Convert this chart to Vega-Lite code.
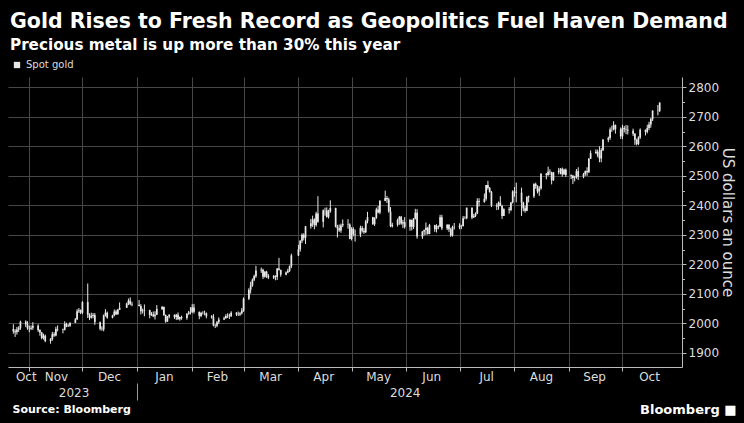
{
"$schema": "https://vega.github.io/schema/vega-lite/v6.json",
"width": 674, "height": 290,
"autosize": {"type": "none"},
"padding": {"left": 8, "top": 77, "right": 62, "bottom": 56},
"background": "#000000",
"title": {"text": "Gold Rises to Fresh Record as Geopolitics Fuel Haven Demand", "subtitle": "Precious metal is up more than 30% this year", "anchor": "start", "frame": "group", "offset": 7, "dx": 2, "font": "DejaVu Sans", "fontSize": 20.5, "fontWeight": "bold", "color": "#ffffff", "subtitleFont": "DejaVu Sans", "subtitleFontSize": 15.2, "subtitleFontWeight": "bold", "subtitleColor": "#ffffff", "subtitlePadding": 5},
"data": {"values": [
{"d":"2023-10-23","o":1981,"h":1997,"l":1965,"c":1973},
{"d":"2023-10-24","o":1973,"h":1980,"l":1954,"c":1970},
{"d":"2023-10-25","o":1970,"h":1988,"l":1962,"c":1979},
{"d":"2023-10-26","o":1979,"h":1990,"l":1971,"c":1985},
{"d":"2023-10-27","o":1985,"h":2009,"l":1978,"c":2006},
{"d":"2023-10-30","o":2006,"h":2010,"l":1987,"c":1996},
{"d":"2023-10-31","o":1996,"h":2007,"l":1978,"c":1983},
{"d":"2023-11-01","o":1983,"h":1992,"l":1970,"c":1982},
{"d":"2023-11-02","o":1982,"h":1993,"l":1977,"c":1985},
{"d":"2023-11-03","o":1985,"h":2004,"l":1978,"c":1992},
{"d":"2023-11-06","o":1992,"h":1997,"l":1971,"c":1977},
{"d":"2023-11-07","o":1977,"h":1980,"l":1958,"c":1969},
{"d":"2023-11-08","o":1969,"h":1971,"l":1946,"c":1950},
{"d":"2023-11-09","o":1950,"h":1965,"l":1945,"c":1958},
{"d":"2023-11-10","o":1958,"h":1962,"l":1936,"c":1940},
{"d":"2023-11-13","o":1940,"h":1950,"l":1931,"c":1946},
{"d":"2023-11-14","o":1946,"h":1971,"l":1941,"c":1963},
{"d":"2023-11-15","o":1963,"h":1970,"l":1954,"c":1959},
{"d":"2023-11-16","o":1959,"h":1988,"l":1956,"c":1981},
{"d":"2023-11-17","o":1981,"h":1993,"l":1973,"c":1980},
{"d":"2023-11-20","o":1980,"h":1982,"l":1966,"c":1978},
{"d":"2023-11-21","o":1978,"h":2007,"l":1976,"c":1998},
{"d":"2023-11-22","o":1998,"h":2002,"l":1987,"c":1990},
{"d":"2023-11-23","o":1990,"h":1997,"l":1988,"c":1992},
{"d":"2023-11-24","o":1992,"h":2003,"l":1988,"c":2002},
{"d":"2023-11-27","o":2002,"h":2018,"l":2001,"c":2013},
{"d":"2023-11-28","o":2013,"h":2048,"l":2012,"c":2041},
{"d":"2023-11-29","o":2041,"h":2052,"l":2035,"c":2044},
{"d":"2023-11-30","o":2044,"h":2047,"l":2031,"c":2036},
{"d":"2023-12-01","o":2036,"h":2075,"l":2031,"c":2072},
{"d":"2023-12-04","o":2072,"h":2135,"l":2018,"c":2029},
{"d":"2023-12-05","o":2029,"h":2034,"l":2011,"c":2019},
{"d":"2023-12-06","o":2019,"h":2036,"l":2016,"c":2025},
{"d":"2023-12-07","o":2025,"h":2035,"l":2017,"c":2028},
{"d":"2023-12-08","o":2028,"h":2035,"l":1995,"c":2004},
{"d":"2023-12-11","o":2004,"h":2006,"l":1976,"c":1982},
{"d":"2023-12-12","o":1982,"h":1990,"l":1975,"c":1980},
{"d":"2023-12-13","o":1980,"h":2030,"l":1973,"c":2027},
{"d":"2023-12-14","o":2027,"h":2048,"l":2023,"c":2036},
{"d":"2023-12-15","o":2036,"h":2040,"l":2016,"c":2019},
{"d":"2023-12-18","o":2019,"h":2029,"l":2017,"c":2027},
{"d":"2023-12-19","o":2027,"h":2047,"l":2024,"c":2040},
{"d":"2023-12-20","o":2040,"h":2046,"l":2028,"c":2031},
{"d":"2023-12-21","o":2031,"h":2049,"l":2029,"c":2046},
{"d":"2023-12-22","o":2046,"h":2071,"l":2045,"c":2053},
{"d":"2023-12-26","o":2053,"h":2070,"l":2052,"c":2067},
{"d":"2023-12-27","o":2067,"h":2084,"l":2062,"c":2077},
{"d":"2023-12-28","o":2077,"h":2088,"l":2061,"c":2065},
{"d":"2023-12-29","o":2065,"h":2073,"l":2058,"c":2063},
{"d":"2024-01-02","o":2063,"h":2079,"l":2057,"c":2059},
{"d":"2024-01-03","o":2059,"h":2065,"l":2030,"c":2041},
{"d":"2024-01-04","o":2041,"h":2050,"l":2033,"c":2043},
{"d":"2024-01-05","o":2043,"h":2064,"l":2024,"c":2045},
{"d":"2024-01-08","o":2045,"h":2046,"l":2017,"c":2028},
{"d":"2024-01-09","o":2028,"h":2038,"l":2025,"c":2030},
{"d":"2024-01-10","o":2030,"h":2040,"l":2021,"c":2024},
{"d":"2024-01-11","o":2024,"h":2041,"l":2013,"c":2029},
{"d":"2024-01-12","o":2029,"h":2062,"l":2028,"c":2049},
{"d":"2024-01-15","o":2049,"h":2059,"l":2045,"c":2055},
{"d":"2024-01-16","o":2055,"h":2057,"l":2025,"c":2028},
{"d":"2024-01-17","o":2028,"h":2030,"l":2002,"c":2006},
{"d":"2024-01-18","o":2006,"h":2025,"l":2005,"c":2023},
{"d":"2024-01-19","o":2023,"h":2031,"l":2017,"c":2029},
{"d":"2024-01-22","o":2029,"h":2030,"l":2015,"c":2021},
{"d":"2024-01-23","o":2021,"h":2032,"l":2011,"c":2029},
{"d":"2024-01-24","o":2029,"h":2037,"l":2012,"c":2014},
{"d":"2024-01-25","o":2014,"h":2023,"l":2009,"c":2021},
{"d":"2024-01-26","o":2021,"h":2026,"l":2012,"c":2018},
{"d":"2024-01-29","o":2018,"h":2035,"l":2012,"c":2032},
{"d":"2024-01-30","o":2032,"h":2042,"l":2029,"c":2037},
{"d":"2024-01-31","o":2037,"h":2055,"l":2030,"c":2039},
{"d":"2024-02-01","o":2039,"h":2065,"l":2035,"c":2054},
{"d":"2024-02-02","o":2054,"h":2066,"l":2033,"c":2039},
{"d":"2024-02-05","o":2039,"h":2040,"l":2014,"c":2025},
{"d":"2024-02-06","o":2025,"h":2039,"l":2021,"c":2035},
{"d":"2024-02-07","o":2035,"h":2041,"l":2030,"c":2035},
{"d":"2024-02-08","o":2035,"h":2043,"l":2027,"c":2034},
{"d":"2024-02-09","o":2034,"h":2037,"l":2017,"c":2024},
{"d":"2024-02-12","o":2024,"h":2028,"l":2016,"c":2020},
{"d":"2024-02-13","o":2020,"h":2031,"l":1990,"c":1993},
{"d":"2024-02-14","o":1993,"h":1997,"l":1984,"c":1992},
{"d":"2024-02-15","o":1992,"h":2008,"l":1987,"c":2004},
{"d":"2024-02-16","o":2004,"h":2020,"l":1998,"c":2013},
{"d":"2024-02-19","o":2013,"h":2023,"l":2011,"c":2017},
{"d":"2024-02-20","o":2017,"h":2031,"l":2016,"c":2025},
{"d":"2024-02-21","o":2025,"h":2034,"l":2018,"c":2026},
{"d":"2024-02-22","o":2026,"h":2033,"l":2015,"c":2024},
{"d":"2024-02-23","o":2024,"h":2041,"l":2022,"c":2036},
{"d":"2024-02-26","o":2036,"h":2038,"l":2025,"c":2031},
{"d":"2024-02-27","o":2031,"h":2040,"l":2025,"c":2030},
{"d":"2024-02-28","o":2030,"h":2038,"l":2025,"c":2034},
{"d":"2024-02-29","o":2034,"h":2052,"l":2030,"c":2044},
{"d":"2024-03-01","o":2044,"h":2088,"l":2039,"c":2083},
{"d":"2024-03-04","o":2083,"h":2119,"l":2079,"c":2114},
{"d":"2024-03-05","o":2114,"h":2141,"l":2101,"c":2128},
{"d":"2024-03-06","o":2128,"h":2152,"l":2124,"c":2148},
{"d":"2024-03-07","o":2148,"h":2165,"l":2143,"c":2160},
{"d":"2024-03-08","o":2160,"h":2195,"l":2154,"c":2179},
{"d":"2024-03-11","o":2179,"h":2189,"l":2171,"c":2182},
{"d":"2024-03-12","o":2182,"h":2185,"l":2150,"c":2158},
{"d":"2024-03-13","o":2158,"h":2177,"l":2155,"c":2175},
{"d":"2024-03-14","o":2175,"h":2178,"l":2154,"c":2162},
{"d":"2024-03-15","o":2162,"h":2167,"l":2150,"c":2155},
{"d":"2024-03-18","o":2155,"h":2164,"l":2150,"c":2160},
{"d":"2024-03-19","o":2160,"h":2163,"l":2146,"c":2157},
{"d":"2024-03-20","o":2157,"h":2187,"l":2147,"c":2186},
{"d":"2024-03-21","o":2186,"h":2222,"l":2179,"c":2181},
{"d":"2024-03-22","o":2181,"h":2182,"l":2158,"c":2165},
{"d":"2024-03-25","o":2165,"h":2176,"l":2163,"c":2172},
{"d":"2024-03-26","o":2172,"h":2185,"l":2170,"c":2178},
{"d":"2024-03-27","o":2178,"h":2196,"l":2174,"c":2194},
{"d":"2024-03-28","o":2194,"h":2236,"l":2187,"c":2230},
{"d":"2024-04-01","o":2230,"h":2266,"l":2228,"c":2251},
{"d":"2024-04-02","o":2251,"h":2282,"l":2243,"c":2280},
{"d":"2024-04-03","o":2280,"h":2305,"l":2272,"c":2300},
{"d":"2024-04-04","o":2300,"h":2305,"l":2281,"c":2290},
{"d":"2024-04-05","o":2290,"h":2330,"l":2269,"c":2329},
{"d":"2024-04-08","o":2329,"h":2354,"l":2321,"c":2339},
{"d":"2024-04-09","o":2339,"h":2365,"l":2327,"c":2352},
{"d":"2024-04-10","o":2352,"h":2356,"l":2319,"c":2333},
{"d":"2024-04-11","o":2333,"h":2378,"l":2328,"c":2372},
{"d":"2024-04-12","o":2372,"h":2431,"l":2341,"c":2344},
{"d":"2024-04-15","o":2344,"h":2386,"l":2325,"c":2383},
{"d":"2024-04-16","o":2383,"h":2392,"l":2365,"c":2383},
{"d":"2024-04-17","o":2383,"h":2393,"l":2358,"c":2361},
{"d":"2024-04-18","o":2361,"h":2385,"l":2355,"c":2379},
{"d":"2024-04-19","o":2379,"h":2417,"l":2375,"c":2391},
{"d":"2024-04-22","o":2391,"h":2392,"l":2325,"c":2327},
{"d":"2024-04-23","o":2327,"h":2334,"l":2291,"c":2322},
{"d":"2024-04-24","o":2322,"h":2335,"l":2310,"c":2315},
{"d":"2024-04-25","o":2315,"h":2338,"l":2307,"c":2332},
{"d":"2024-04-26","o":2332,"h":2352,"l":2326,"c":2337},
{"d":"2024-04-29","o":2337,"h":2353,"l":2321,"c":2335},
{"d":"2024-04-30","o":2335,"h":2339,"l":2285,"c":2286},
{"d":"2024-05-01","o":2286,"h":2326,"l":2281,"c":2320},
{"d":"2024-05-02","o":2320,"h":2326,"l":2295,"c":2303},
{"d":"2024-05-03","o":2303,"h":2318,"l":2277,"c":2301},
{"d":"2024-05-06","o":2301,"h":2331,"l":2292,"c":2323},
{"d":"2024-05-07","o":2323,"h":2330,"l":2308,"c":2314},
{"d":"2024-05-08","o":2314,"h":2323,"l":2303,"c":2309},
{"d":"2024-05-09","o":2309,"h":2351,"l":2306,"c":2346},
{"d":"2024-05-10","o":2346,"h":2378,"l":2339,"c":2360},
{"d":"2024-05-13","o":2360,"h":2361,"l":2334,"c":2336},
{"d":"2024-05-14","o":2336,"h":2359,"l":2330,"c":2358},
{"d":"2024-05-15","o":2358,"h":2392,"l":2354,"c":2386},
{"d":"2024-05-16","o":2386,"h":2398,"l":2373,"c":2376},
{"d":"2024-05-17","o":2376,"h":2418,"l":2370,"c":2415},
{"d":"2024-05-20","o":2415,"h":2450,"l":2414,"c":2425},
{"d":"2024-05-21","o":2425,"h":2432,"l":2408,"c":2420},
{"d":"2024-05-22","o":2420,"h":2426,"l":2375,"c":2379},
{"d":"2024-05-23","o":2379,"h":2394,"l":2326,"c":2329},
{"d":"2024-05-24","o":2329,"h":2341,"l":2325,"c":2334},
{"d":"2024-05-27","o":2334,"h":2355,"l":2328,"c":2351},
{"d":"2024-05-28","o":2351,"h":2364,"l":2334,"c":2361},
{"d":"2024-05-29","o":2361,"h":2364,"l":2334,"c":2338},
{"d":"2024-05-30","o":2338,"h":2351,"l":2323,"c":2343},
{"d":"2024-05-31","o":2343,"h":2360,"l":2321,"c":2327},
{"d":"2024-06-03","o":2327,"h":2354,"l":2314,"c":2350},
{"d":"2024-06-04","o":2350,"h":2352,"l":2315,"c":2327},
{"d":"2024-06-05","o":2327,"h":2357,"l":2320,"c":2355},
{"d":"2024-06-06","o":2355,"h":2388,"l":2352,"c":2375},
{"d":"2024-06-07","o":2375,"h":2387,"l":2287,"c":2294},
{"d":"2024-06-10","o":2294,"h":2313,"l":2286,"c":2311},
{"d":"2024-06-11","o":2311,"h":2318,"l":2298,"c":2316},
{"d":"2024-06-12","o":2316,"h":2342,"l":2300,"c":2324},
{"d":"2024-06-13","o":2324,"h":2327,"l":2301,"c":2303},
{"d":"2024-06-14","o":2303,"h":2337,"l":2302,"c":2333},
{"d":"2024-06-17","o":2333,"h":2334,"l":2310,"c":2319},
{"d":"2024-06-18","o":2319,"h":2336,"l":2308,"c":2330},
{"d":"2024-06-19","o":2330,"h":2332,"l":2319,"c":2328},
{"d":"2024-06-20","o":2328,"h":2368,"l":2326,"c":2360},
{"d":"2024-06-21","o":2360,"h":2368,"l":2316,"c":2322},
{"d":"2024-06-24","o":2322,"h":2336,"l":2316,"c":2334},
{"d":"2024-06-25","o":2334,"h":2336,"l":2310,"c":2319},
{"d":"2024-06-26","o":2319,"h":2324,"l":2293,"c":2298},
{"d":"2024-06-27","o":2298,"h":2331,"l":2294,"c":2327},
{"d":"2024-06-28","o":2327,"h":2340,"l":2318,"c":2326},
{"d":"2024-07-01","o":2326,"h":2339,"l":2319,"c":2331},
{"d":"2024-07-02","o":2331,"h":2334,"l":2319,"c":2330},
{"d":"2024-07-03","o":2330,"h":2364,"l":2328,"c":2356},
{"d":"2024-07-04","o":2356,"h":2363,"l":2353,"c":2356},
{"d":"2024-07-05","o":2356,"h":2392,"l":2353,"c":2392},
{"d":"2024-07-08","o":2392,"h":2393,"l":2353,"c":2359},
{"d":"2024-07-09","o":2359,"h":2371,"l":2357,"c":2364},
{"d":"2024-07-10","o":2364,"h":2376,"l":2360,"c":2372},
{"d":"2024-07-11","o":2372,"h":2424,"l":2370,"c":2415},
{"d":"2024-07-12","o":2415,"h":2424,"l":2396,"c":2411},
{"d":"2024-07-15","o":2411,"h":2440,"l":2409,"c":2422},
{"d":"2024-07-16","o":2422,"h":2469,"l":2416,"c":2469},
{"d":"2024-07-17","o":2469,"h":2483,"l":2453,"c":2459},
{"d":"2024-07-18","o":2459,"h":2462,"l":2443,"c":2445},
{"d":"2024-07-19","o":2445,"h":2449,"l":2394,"c":2400},
{"d":"2024-07-22","o":2400,"h":2407,"l":2384,"c":2396},
{"d":"2024-07-23","o":2396,"h":2413,"l":2385,"c":2409},
{"d":"2024-07-24","o":2409,"h":2431,"l":2397,"c":2398},
{"d":"2024-07-25","o":2398,"h":2402,"l":2354,"c":2364},
{"d":"2024-07-26","o":2364,"h":2390,"l":2364,"c":2387},
{"d":"2024-07-29","o":2387,"h":2394,"l":2372,"c":2384},
{"d":"2024-07-30","o":2384,"h":2412,"l":2380,"c":2410},
{"d":"2024-07-31","o":2410,"h":2451,"l":2406,"c":2447},
{"d":"2024-08-01","o":2447,"h":2462,"l":2429,"c":2446},
{"d":"2024-08-02","o":2446,"h":2477,"l":2410,"c":2443},
{"d":"2024-08-05","o":2443,"h":2460,"l":2364,"c":2409},
{"d":"2024-08-06","o":2409,"h":2412,"l":2380,"c":2390},
{"d":"2024-08-07","o":2390,"h":2399,"l":2375,"c":2382},
{"d":"2024-08-08","o":2382,"h":2431,"l":2380,"c":2427},
{"d":"2024-08-09","o":2427,"h":2433,"l":2410,"c":2431},
{"d":"2024-08-12","o":2431,"h":2475,"l":2425,"c":2472},
{"d":"2024-08-13","o":2472,"h":2477,"l":2456,"c":2465},
{"d":"2024-08-14","o":2465,"h":2468,"l":2440,"c":2447},
{"d":"2024-08-15","o":2447,"h":2465,"l":2432,"c":2457},
{"d":"2024-08-16","o":2457,"h":2509,"l":2453,"c":2507},
{"d":"2024-08-19","o":2507,"h":2510,"l":2488,"c":2503},
{"d":"2024-08-20","o":2503,"h":2531,"l":2500,"c":2514},
{"d":"2024-08-21","o":2514,"h":2522,"l":2503,"c":2512},
{"d":"2024-08-22","o":2512,"h":2514,"l":2471,"c":2485},
{"d":"2024-08-23","o":2485,"h":2512,"l":2483,"c":2512},
{"d":"2024-08-26","o":2512,"h":2527,"l":2505,"c":2518},
{"d":"2024-08-27","o":2518,"h":2526,"l":2505,"c":2524},
{"d":"2024-08-28","o":2524,"h":2528,"l":2497,"c":2505},
{"d":"2024-08-29","o":2505,"h":2524,"l":2503,"c":2521},
{"d":"2024-08-30","o":2521,"h":2525,"l":2496,"c":2503},
{"d":"2024-09-02","o":2503,"h":2505,"l":2489,"c":2500},
{"d":"2024-09-03","o":2500,"h":2503,"l":2472,"c":2493},
{"d":"2024-09-04","o":2493,"h":2500,"l":2481,"c":2495},
{"d":"2024-09-05","o":2495,"h":2523,"l":2490,"c":2516},
{"d":"2024-09-06","o":2516,"h":2529,"l":2486,"c":2497},
{"d":"2024-09-09","o":2497,"h":2510,"l":2492,"c":2506},
{"d":"2024-09-10","o":2506,"h":2518,"l":2500,"c":2516},
{"d":"2024-09-11","o":2516,"h":2529,"l":2500,"c":2512},
{"d":"2024-09-12","o":2512,"h":2560,"l":2510,"c":2558},
{"d":"2024-09-13","o":2558,"h":2586,"l":2557,"c":2577},
{"d":"2024-09-16","o":2577,"h":2590,"l":2574,"c":2582},
{"d":"2024-09-17","o":2582,"h":2589,"l":2563,"c":2569},
{"d":"2024-09-18","o":2569,"h":2600,"l":2546,"c":2559},
{"d":"2024-09-19","o":2559,"h":2594,"l":2546,"c":2587},
{"d":"2024-09-20","o":2587,"h":2625,"l":2584,"c":2622},
{"d":"2024-09-23","o":2622,"h":2633,"l":2614,"c":2628},
{"d":"2024-09-24","o":2628,"h":2664,"l":2622,"c":2657},
{"d":"2024-09-25","o":2657,"h":2670,"l":2649,"c":2657},
{"d":"2024-09-26","o":2657,"h":2685,"l":2654,"c":2672},
{"d":"2024-09-27","o":2672,"h":2674,"l":2643,"c":2658},
{"d":"2024-09-30","o":2658,"h":2664,"l":2625,"c":2634},
{"d":"2024-10-01","o":2634,"h":2673,"l":2624,"c":2662},
{"d":"2024-10-02","o":2662,"h":2669,"l":2647,"c":2658},
{"d":"2024-10-03","o":2658,"h":2672,"l":2641,"c":2656},
{"d":"2024-10-04","o":2656,"h":2671,"l":2640,"c":2653},
{"d":"2024-10-07","o":2653,"h":2660,"l":2635,"c":2643},
{"d":"2024-10-08","o":2643,"h":2645,"l":2605,"c":2622},
{"d":"2024-10-09","o":2622,"h":2626,"l":2603,"c":2608},
{"d":"2024-10-10","o":2608,"h":2634,"l":2604,"c":2630},
{"d":"2024-10-11","o":2630,"h":2661,"l":2625,"c":2656},
{"d":"2024-10-14","o":2656,"h":2657,"l":2637,"c":2649},
{"d":"2024-10-15","o":2649,"h":2673,"l":2644,"c":2662},
{"d":"2024-10-16","o":2662,"h":2683,"l":2655,"c":2674},
{"d":"2024-10-17","o":2674,"h":2696,"l":2663,"c":2692},
{"d":"2024-10-18","o":2692,"h":2722,"l":2686,"c":2721},
{"d":"2024-10-21","o":2721,"h":2740,"l":2705,"c":2720},
{"d":"2024-10-22","o":2720,"h":2749,"l":2716,"c":2748}
]},
"layer": [
{"mark": {"type": "rule", "color": "#e8e8e8", "strokeWidth": 1},
 "encoding": {
  "x": {"field": "d", "type": "temporal",
   "scale": {"type": "utc", "domain": [{"year": 2023, "month": 10, "date": 22, "hours": 19, "utc": true}, {"year": 2024, "month": 10, "date": 31, "hours": 19, "utc": true}]},
   "axis": {"orient": "bottom", "title": null, "labels": false, "grid": true, "gridColor": "#474747", "gridWidth": 1, "ticks": true, "tickSize": 4, "tickColor": "#bbbbbb", "domain": true, "domainColor": "#bbbbbb",
    "values": [{"year": 2023, "month": 11, "date": 1, "utc": true}, {"year": 2023, "month": 12, "date": 1, "utc": true}, {"year": 2024, "month": 1, "date": 1, "utc": true}, {"year": 2024, "month": 2, "date": 1, "utc": true}, {"year": 2024, "month": 3, "date": 1, "utc": true}, {"year": 2024, "month": 4, "date": 1, "utc": true}, {"year": 2024, "month": 5, "date": 1, "utc": true}, {"year": 2024, "month": 6, "date": 1, "utc": true}, {"year": 2024, "month": 7, "date": 1, "utc": true}, {"year": 2024, "month": 8, "date": 1, "utc": true}, {"year": 2024, "month": 9, "date": 1, "utc": true}, {"year": 2024, "month": 10, "date": 1, "utc": true}]}},
  "y": {"field": "l", "type": "quantitative",
   "scale": {"domain": [1852, 2835], "nice": false, "zero": false},
   "axis": {"orient": "right", "format": "d", "values": [1900, 2000, 2100, 2200, 2300, 2400, 2500, 2600, 2700, 2800], "grid": true, "gridColor": "#474747", "gridWidth": 1, "tickSize": 4, "tickColor": "#bbbbbb", "domainColor": "#bbbbbb", "labelPadding": 2, "labelFontSize": 12, "title": "US dollars an ounce", "titleFontSize": 15, "titleFontWeight": "normal", "titlePadding": 1}},
  "y2": {"field": "h"}
 }},
{"mark": {"type": "bar", "size": 1.7},
 "encoding": {
  "x": {"field": "d", "type": "temporal",
   "axis": {"orient": "bottom", "title": null, "grid": false, "ticks": false, "tickSize": 0, "domain": false, "labelPadding": 4, "labelFlush": false, "labelOverlap": false, "labelExpr": "utcFormat(datum.value, '%b')",
    "values": [{"year": 2023, "month": 10, "date": 30, "utc": true}, {"year": 2023, "month": 11, "date": 16, "utc": true}, {"year": 2023, "month": 12, "date": 16, "utc": true}, {"year": 2024, "month": 1, "date": 16, "utc": true}, {"year": 2024, "month": 2, "date": 15, "utc": true}, {"year": 2024, "month": 3, "date": 16, "utc": true}, {"year": 2024, "month": 4, "date": 15, "utc": true}, {"year": 2024, "month": 5, "date": 16, "utc": true}, {"year": 2024, "month": 6, "date": 15, "utc": true}, {"year": 2024, "month": 7, "date": 16, "utc": true}, {"year": 2024, "month": 8, "date": 16, "utc": true}, {"year": 2024, "month": 9, "date": 15, "utc": true}, {"year": 2024, "month": 10, "date": 16, "utc": true}]}},
  "y": {"field": "o", "type": "quantitative",
   "axis": {"orient": "right", "title": null, "labels": false, "grid": false, "domain": false, "ticks": true, "tickSize": 2.5, "tickColor": "#bbbbbb", "values": [1950, 2050, 2150, 2250, 2350, 2450, 2550, 2650, 2750]}},
  "y2": {"field": "c"},
  "color": {"datum": "Spot gold", "type": "nominal", "scale": {"range": ["#e8e8e8"]},
   "legend": {"orient": "none", "legendX": 4, "legendY": -17, "title": null, "symbolType": "square", "symbolSize": 40, "symbolStrokeWidth": 0, "labelFont": "DejaVu Sans", "labelFontSize": 10, "labelColor": "#dddddd", "padding": 0, "labelOffset": 4}}
 }},
{"mark": {"type": "rule", "opacity": 0},
 "encoding": {
  "x": {"field": "d", "type": "temporal",
   "axis": {"orient": "bottom", "grid": false, "ticks": false, "tickSize": 0, "domain": false, "labelPadding": 20, "labelFlush": false, "labelOverlap": false, "labelExpr": "utcFormat(datum.value, '%Y')",
    "values": [{"year": 2023, "month": 11, "date": 26, "utc": true}, {"year": 2024, "month": 5, "date": 31, "utc": true}],
    "title": "Source: Bloomberg", "titleFontSize": 11, "titleFontWeight": "bold", "titleColor": "#ffffff", "titleAnchor": "start", "titleAlign": "left", "titleBaseline": "middle", "titleX": 4, "titleY": 42}}
 }},
{"mark": {"type": "rule", "opacity": 0},
 "encoding": {
  "x": {"field": "d", "type": "temporal",
   "axis": {"orient": "bottom", "offset": 16, "grid": false, "labels": false, "domain": false, "ticks": true, "tickSize": 17, "tickColor": "#999999",
    "values": [{"year": 2024, "month": 1, "date": 1, "utc": true}],
    "title": "Bloomberg ■", "titleFontSize": 13, "titleFontWeight": "bold", "titleColor": "#ffffff", "titleAnchor": "end", "titleAlign": "right", "titleBaseline": "middle", "titleX": 728, "titleY": 26}}
 }}
],
"resolve": {"axis": {"x": "independent", "y": "independent"}},
"config": {"view": {"stroke": null}, "axis": {"labelFont": "DejaVu Sans", "titleFont": "DejaVu Sans", "labelColor": "#dddddd", "titleColor": "#dddddd", "labelFontSize": 12}}
}
